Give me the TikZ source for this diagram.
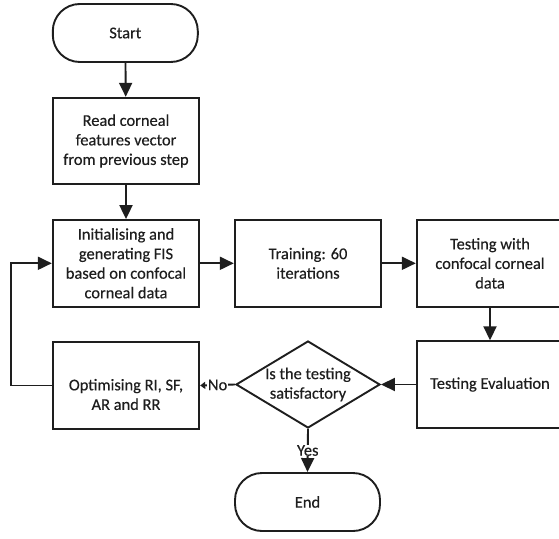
\documentclass[tikz,border=0pt]{standalone}
\usepackage{fontspec}
\setmainfont{Carlito}[FakeBold=0.35]
\usetikzlibrary{shapes.geometric,arrows.meta}
\definecolor{ink}{HTML}{1E1E1E}
\begin{document}
\begin{tikzpicture}[x=1bp,y=-1bp,
  txt/.style={font=\fontsize{16.5}{19.6}\selectfont, text=ink, align=center},
  box/.style={txt, draw=ink, line width=1.9bp, rectangle, minimum width=146.5bp, minimum height=86.5bp, inner sep=2bp},
  term/.style={box, rounded corners=27bp, minimum width=145bp, minimum height=58bp},
  dec/.style={txt, draw=ink, line width=1.9bp, diamond, minimum width=144bp, minimum height=87bp, inner sep=0bp, shape aspect=1.65},
  conn/.style={line width=1.9bp, draw=ink, -{Triangle[length=14bp,width=13bp]}},
  small/.style={line width=1.9bp, draw=ink, -{Triangle[length=5bp,width=7bp]}},
  lab/.style={txt, fill=white, inner sep=0.5bp}
]
\useasboundingbox (0,0) rectangle (559,539);
\clip (0,0) rectangle (559,539);
\fill[white] (0,0) rectangle (559,539);

\node[term] (start) at (125.3,33) {Start};
\node[box] (read) at (126,141) {Read corneal\\features vector\\from previous step};
\node[box] (init) at (126,263.3) {Initialising and\\generating FIS\\based on confocal\\corneal data};
\node[box] (train) at (308,263.3) {Training: 60\\iterations};
\node[box] (test) at (490,263.3) {Testing with\\confocal corneal\\data};
\node[box] (eval) at (490,384.5) {Testing Evaluation};
\node[dec] (dec) at (308,384.5) {Is the testing\\satisfactory};
\node[box] (opt) at (126,385.5) {};
\node[txt] (optlabel) at (126,394.5) {Optimising RI, SF,\\AR and RR};
\node[term] (end) at (307.5,502) {End};

\draw[conn] (start) -- (read);
\draw[conn] (read) -- (init);
\draw[conn] (init) -- (train);
\draw[conn] (train) -- (test);
\draw[conn] (test) -- (eval);
\draw[conn] (eval) -- (dec);
\draw[small] (dec.west) -- node[lab] (no) {No} (opt.east);
\draw[conn] (dec.south) -- node[lab] (yes) {Yes} (end.north);
\draw[conn] (opt.west) -- ++(-40.7,0) |- (init.west);
\end{tikzpicture}
\end{document}
